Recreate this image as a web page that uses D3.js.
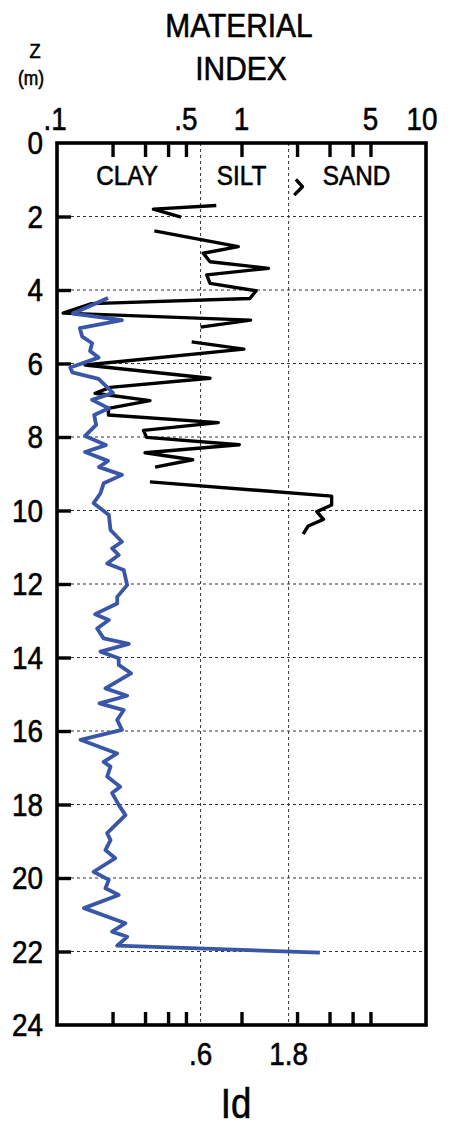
<!DOCTYPE html>
<html>
<head>
<meta charset="utf-8">
<script src="https://cdn.jsdelivr.net/npm/d3@7"></script>
<style>
  html, body { margin: 0; padding: 0; background: #fff; }
  svg { display: block; }
  text { font-family: "Liberation Sans", Arial, sans-serif; fill: #000; stroke: #000; stroke-width: 0.6px; }
</style>
</head>
<body>
<svg id="chart" width="450" height="1128"></svg>
<script>
// ---- data (depth z in m, material index Id) ----
const blackSeries = [
  [1.70,0.73],[1.80,0.333],[2.02,0.47], null,
  [2.39,0.337],[2.82,0.96],[3.00,0.62],[3.23,0.675],[3.41,1.40],[3.59,0.648],[3.82,0.675],
  [4.02,1.20],[4.23,1.11],[4.37,0.154],[4.63,0.108],[4.82,1.12],[5.01,0.60], null,
  [5.41,0.537],[5.61,1.03],[6.04,0.142],[6.40,0.675],[6.65,0.194],[6.81,0.161],[7.01,0.319],
  [7.22,0.19],[7.40,0.19],[7.61,0.748],[7.82,0.294],[8.01,0.306],[8.21,0.973],[8.43,0.30],
  [8.62,0.544],[8.82,0.34], null,
  [9.22,0.319],[9.61,3.08],[9.85,3.08],[10.03,2.56],[10.24,2.78],[10.42,2.30],[10.64,2.16]
];
const blackFragment = [[0.99,1.97],[1.19,2.14],[1.42,1.93]];
const blueSeries = [
  [4.22,0.189],[4.64,0.122],[4.82,0.225],[5.04,0.133],[5.27,0.137],[5.45,0.155],[5.66,0.151],
  [5.84,0.168],[6.11,0.118],[6.24,0.121],[6.42,0.168],[6.80,0.201],[6.99,0.155],[7.22,0.191],
  [7.40,0.159],[7.67,0.163],[7.97,0.142],[8.22,0.184],[8.41,0.142],[8.65,0.189],[8.82,0.169],
  [9.03,0.225],[9.26,0.179],[9.53,0.172],[9.80,0.158],[10.12,0.191],[10.53,0.195],[10.85,0.225],
  [11.03,0.199],[11.21,0.216],[11.44,0.187],[11.62,0.230],[12.03,0.240],[12.35,0.212],[12.53,0.212],
  [12.82,0.161],[12.98,0.191],[13.21,0.165],[13.48,0.179],[13.63,0.245],[13.84,0.172],[14.02,0.216],
  [14.20,0.216],[14.43,0.252],[14.84,0.183],[15.04,0.240],[15.25,0.170],[15.43,0.230],[15.70,0.212],
  [15.97,0.225],[16.24,0.134],[16.61,0.212],[16.84,0.179],[16.97,0.195],[17.24,0.187],[17.52,0.220],
  [17.69,0.199],[18.01,0.216],[18.29,0.235],[18.78,0.187],[18.97,0.195],[19.24,0.183],[19.46,0.207],
  [19.83,0.158],[20.05,0.191],[20.28,0.183],[20.46,0.216],[20.82,0.140],[21.23,0.235],[21.46,0.199],
  [21.60,0.240],[21.84,0.212],[22.03,2.66]
];
const depthTicks = [0,2,4,6,8,10,12,14,16,18,20,22,24];
const minorIdTicks = [0.2,0.3,0.4,0.5,1,2,3,4,5];
const topIdLabels = [0.1,0.5,1,5,10];
const topIdLabelText = [".1",".5","1","5","10"];
const boundaryIds = [0.6,1.8];
const boundaryLabels = [".6","1.8"];
const zoneLabels = ["CLAY","SILT","SAND"];
const zoneLabelIds = [0.24,1.0,4.2];

// ---- layout ----
const L = 57, R = 426, T = 143, B = 1025;
const SX = 0.87;
const svg = d3.select("#chart");
const x = d3.scaleLog().domain([0.1,10]).range([L,R]);
const y = d3.scaleLinear().domain([0,24]).range([T,B]);

function label(txt, px, py, size, anchor, sx) {
  svg.append("g").attr("transform", `translate(${px},${py}) scale(${sx||SX},1)`)
    .append("text").attr("text-anchor", anchor||"middle")
    .attr("font-size", size).text(txt);
}

// gridlines
svg.append("g").selectAll("line.h").data(depthTicks.filter(d=>d>0&&d<24)).join("line")
  .attr("x1", L+14).attr("x2", R).attr("y1", d=>y(d)).attr("y2", d=>y(d))
  .attr("stroke", "#333").attr("stroke-width", 1).attr("stroke-dasharray", "3,3");
svg.append("g").selectAll("line.v").data(boundaryIds).join("line")
  .attr("x1", d=>x(d)).attr("x2", d=>x(d)).attr("y1", T).attr("y2", B)
  .attr("stroke", "#333").attr("stroke-width", 1).attr("stroke-dasharray", "3,3");

// minor ticks top & bottom (axes)
const topAxis = d3.axisBottom(x).tickValues(minorIdTicks).tickSize(14).tickFormat("");
const gTop = svg.append("g").attr("transform", `translate(0,${T})`).call(topAxis);
const botAxis = d3.axisTop(x).tickValues(minorIdTicks).tickSize(13).tickFormat("");
const gBot = svg.append("g").attr("transform", `translate(0,${B})`).call(botAxis);
const leftAxis = d3.axisRight(y).tickValues(depthTicks.filter(d=>d>0&&d<24)).tickSize(14).tickFormat("");
const gLeft = svg.append("g").attr("transform", `translate(${L},0)`).call(leftAxis);
[gTop,gBot,gLeft].forEach(g=>{
  g.select(".domain").remove();
  g.selectAll(".tick line").attr("stroke","#000").attr("stroke-width",3.4);
});

// lines
const line = d3.line().defined(d=>d!==null).x(d=>x(d[1])).y(d=>y(d[0]));
svg.append("path").datum(blackSeries).attr("d", line)
  .attr("fill","none").attr("stroke","#000").attr("stroke-width",3.4).attr("stroke-linejoin","round");
svg.append("path").datum(blackFragment).attr("d", line)
  .attr("fill","none").attr("stroke","#000").attr("stroke-width",3.4).attr("stroke-linejoin","round");
svg.append("path").datum(blueSeries).attr("d", line)
  .attr("fill","none").attr("stroke","#3a56a8").attr("stroke-width",3.8).attr("stroke-linejoin","round");

// frame
svg.append("rect").attr("x",L).attr("y",T).attr("width",R-L).attr("height",B-T)
  .attr("fill","none").attr("stroke","#000").attr("stroke-width",3.6);

// text
label("MATERIAL", 239, 37, 34, "middle", 0.88);
label("INDEX", 241, 80, 34, "middle", 0.88);
label("Z", 35, 58, 21);
label("(m)", 31, 85, 20);
topIdLabels.forEach((v,i)=>{
  let px = x(v);
  if (i===0) px -= 2;
  if (i===4) px -= 4;
  label(topIdLabelText[i], px, 130, 32);
});
depthTicks.forEach(d=> label(String(d), 43, y(d)+11, 32, "end"));
zoneLabels.forEach((t,i)=> label(t, x(zoneLabelIds[i]), 185, 27, "middle", 0.9));
boundaryIds.forEach((v,i)=> label(boundaryLabels[i], x(v), 1065, 32));
label("Id", 236, 1118, 42);
</script>
</body>
</html>
